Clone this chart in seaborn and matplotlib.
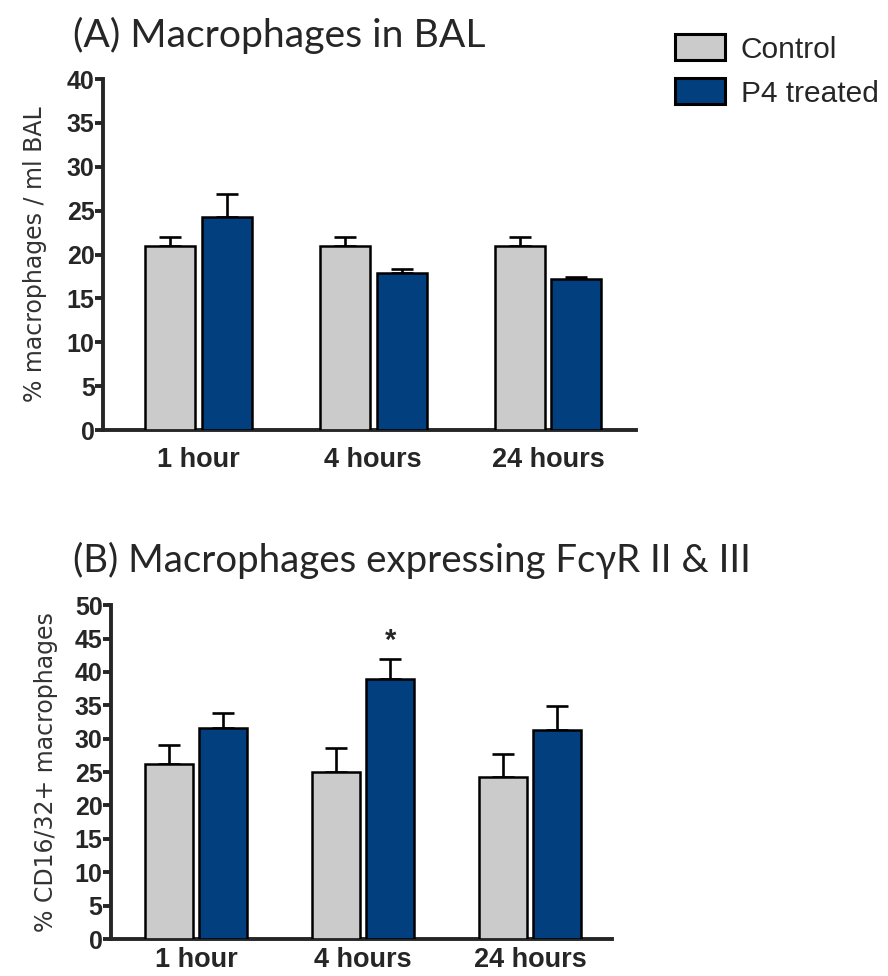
import matplotlib
matplotlib.use('Agg')
import matplotlib.pyplot as plt
from matplotlib.patches import Patch
import seaborn as sns
import numpy as np
import pandas as pd

times = ['1 hour', '4 hours', '24 hours']
groups = ['Control', 'P4 treated']
colors = ['#cbcbcb', '#023f7f']

# panel A: % macrophages / ml BAL (mean, upper SEM)
a_control = [21.0, 21.0, 21.0]
a_control_err = [1.0, 1.0, 1.0]
a_p4 = [24.3, 17.9, 17.2]
a_p4_err = [2.6, 0.4, 0.25]

# panel B: % CD16/32+ macrophages
b_control = [26.2, 25.0, 24.3]
b_control_err = [2.9, 3.6, 3.4]
b_p4 = [31.6, 38.9, 31.3]
b_p4_err = [2.3, 3.1, 3.6]

sns.set_style('white')
plt.rcParams['font.family'] = ['Liberation Sans', 'DejaVu Sans']


def make_df(ctrl, ctrl_err, p4, p4_err):
    return pd.DataFrame({
        'time': times * 2,
        'group': [groups[0]] * 3 + [groups[1]] * 3,
        'value': ctrl + p4,
        'err': ctrl_err + p4_err,
    })


def draw_panel(ax, df, ymax, ylabel, xpad, ylpad):
    sns.barplot(data=df, x='time', y='value', hue='group', order=times,
                hue_order=groups, palette=colors, saturation=1, errorbar=None,
                width=0.65, gap=0.12, edgecolor='black', linewidth=1.8,
                legend=False, ax=ax, zorder=3)
    for cont, g in zip(ax.containers, groups):
        sub = df[df.group == g].set_index('time').loc[times]
        xs = [p.get_x() + p.get_width() / 2 for p in cont.patches]
        ax.errorbar(xs, sub['value'], yerr=[np.zeros(3), sub['err']],
                    fmt='none', ecolor='black', elinewidth=1.9,
                    capsize=8, capthick=1.9, zorder=2)
    ax.set_ylim(0, ymax)
    ax.set_yticks(np.arange(0, ymax + 1, 5))
    ax.set_xlabel('')
    ax.set_ylabel(ylabel, fontsize=17, family='DejaVu Sans', color='#333333',
                  labelpad=ylpad)
    sns.despine(ax=ax)
    for s in ['left', 'bottom']:
        ax.spines[s].set_linewidth(2.8)
    ax.tick_params(axis='y', direction='out', length=6, width=2.8, pad=0,
                   left=True, labelsize=18)
    ax.tick_params(axis='x', length=0, pad=xpad, labelsize=19.5)
    for lab in ax.get_xticklabels() + ax.get_yticklabels():
        lab.set_fontweight('bold')
    return ax


fig = plt.figure(figsize=(8.88, 9.76), dpi=100)
ax_a = fig.add_axes([0.116, 0.5594, 0.600, 0.3596])
ax_b = fig.add_axes([0.125, 0.0379, 0.564, 0.342])

df_a = make_df(a_control, a_control_err, a_p4, a_p4_err)
df_b = make_df(b_control, b_control_err, b_p4, b_p4_err)

draw_panel(ax_a, df_a, 40, '% macrophages / ml BAL', 12, 14)
ax_a.set_xlim(-0.546, 2.503)
draw_panel(ax_b, df_b, 50, '% CD16/32+ macrophages', 6, 12)
ax_b.set_xlim(-0.509, 2.49)

# significance marker on P4 treated, 4 hours
p = ax_b.containers[1].patches[1]
ax_b.text(p.get_x() + p.get_width() / 2, 44.6, '*', ha='center', va='center',
          fontsize=21, fontweight='bold')

fig.text(0.082, 0.964, '(A) Macrophages in BAL', fontsize=28.2, family='Lato',
         ha='left', va='center')
fig.text(0.082, 0.426, '(B) Macrophages expressing Fc\u03b3R II & III',
         fontsize=27.6, family='Lato', ha='left', va='center')

handles = [Patch(facecolor=c, edgecolor='black', linewidth=2.2) for c in colors]
fig.legend(handles, groups, loc='upper left', bbox_to_anchor=(0.747, 0.977),
           frameon=False, fontsize=21.5, handlelength=1.65, handleheight=0.95,
           handletextpad=0.55, labelspacing=0.5, borderaxespad=0)

fig.savefig('out.png', dpi=100)
